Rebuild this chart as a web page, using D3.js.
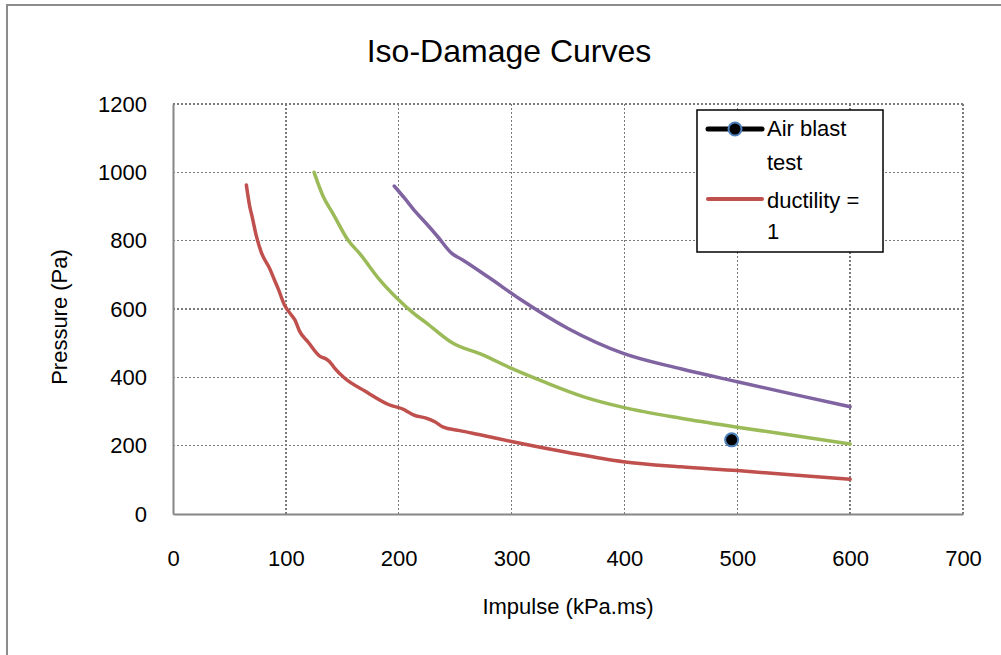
<!DOCTYPE html>
<html lang="en">
<head>
    <meta charset="UTF-8">
    <title>Iso-Damage Curves</title>
    <script src="https://d3js.org/d3.v7.min.js"></script>
    <style>
        body { margin: 0; background: #fff; }
        svg { display: block; font-family: "Liberation Sans", Arial, sans-serif; }
        .grid line { stroke: #7a7a7a; stroke-width: 1.5; stroke-dasharray: 2 2; shape-rendering: crispEdges; }
        .axis .domain { stroke: #868686; stroke-width: 2; }
        .axis text { font-size: 22px; fill: #000; }
    </style>
</head>
<body>
    <svg id="chart" width="1001" height="655"></svg>

    <script>
        // values
        const xTicks = [0, 100, 200, 300, 400, 500, 600, 700];
        const yTicks = [0, 200, 400, 600, 800, 1000, 1200];

        // ductility = 1 (red)
        const redImpulse  = [65, 68, 70, 74, 78, 86, 90, 93, 99, 105, 108, 112, 120, 130, 136, 139, 143, 152, 170, 192, 205, 208, 213, 225, 232, 239, 254, 275, 300, 350, 399, 450, 500, 550, 600];
        const redPressure = [963, 900, 872, 812, 768, 716, 684, 661, 610, 582, 568, 536, 502, 462, 453, 445, 428, 398, 360, 319, 305, 299, 290, 280, 270, 255, 244, 230, 212, 180, 153, 138, 127, 114, 102];

        // green curve
        const greenImpulse  = [125, 133, 142, 155, 166, 183, 198, 213, 225, 247, 275, 300, 330, 364, 399, 450, 500, 550, 600];
        const greenPressure = [1000, 930, 878, 802, 760, 686, 633, 588, 558, 502, 465, 426, 385, 343, 312, 280, 254, 230, 205];

        // purple curve
        const purpleImpulse  = [196, 205, 215, 225, 235, 247, 256, 280, 307, 350, 399, 450, 500, 550, 600];
        const purplePressure = [960, 925, 884, 848, 810, 763, 745, 692, 630, 543, 470, 425, 387, 350, 314];

        // air blast test point
        const testImpulse = [495];
        const testPressure = [217];

        const legendLabels = [["Air blast", "test"], ["ductility =", "1"]];

        const svg = d3.select("#chart");

        // outer chart border
        svg.append("rect")
            .attr("x", 7).attr("y", 5)
            .attr("width", 1010).attr("height", 670)
            .attr("fill", "none")
            .attr("stroke", "#8c8c8c")
            .attr("stroke-width", 2);

        const x = d3.scaleLinear().domain([0, 700]).range([173, 963]);
        const y = d3.scaleLinear().domain([0, 1200]).range([514, 104]);

        // dotted gridlines
        const grid = svg.append("g").attr("class", "grid");
        grid.selectAll(".vx")
            .data(xTicks.filter(d => d > 0))
            .enter().append("line")
            .attr("x1", d => x(d)).attr("x2", d => x(d))
            .attr("y1", y(0)).attr("y2", y(1200));
        grid.selectAll(".hy")
            .data(yTicks.filter(d => d > 0))
            .enter().append("line")
            .attr("x1", x(0)).attr("x2", x(700))
            .attr("y1", d => y(d)).attr("y2", d => y(d));

        // axes
        svg.append("g")
            .attr("class", "axis")
            .attr("transform", `translate(0,${y(0)})`)
            .call(d3.axisBottom(x).tickValues(xTicks).tickFormat(d => String(d))
                .tickSize(0).tickSizeOuter(0).tickPadding(36));

        svg.append("g")
            .attr("class", "axis")
            .attr("transform", `translate(${x(0)},0)`)
            .call(d3.axisLeft(y).tickValues(yTicks).tickFormat(d => String(d))
                .tickSize(0).tickSizeOuter(0).tickPadding(26));

        svg.selectAll(".axis .tick line").remove();

        // curves
        const series = [
            { xs: purpleImpulse, ys: purplePressure, color: "#8064a2" },
            { xs: greenImpulse, ys: greenPressure, color: "#9bbb59" },
            { xs: redImpulse, ys: redPressure, color: "#c0504d" }
        ];

        const line = d3.line()
            .x(d => x(d[0]))
            .y(d => y(d[1]))
            .curve(d3.curveMonotoneX);

        series.forEach(s => {
            svg.append("path")
                .datum(s.xs.map((v, i) => [v, s.ys[i]]))
                .attr("d", line)
                .attr("fill", "none")
                .attr("stroke", s.color)
                .attr("stroke-width", 3.5)
                .attr("stroke-linecap", "round")
                .attr("stroke-linejoin", "round");
        });

        // test point
        svg.selectAll(".test")
            .data(testImpulse.map((v, i) => [v, testPressure[i]]))
            .enter().append("circle")
            .attr("cx", d => x(d[0]))
            .attr("cy", d => y(d[1]))
            .attr("r", 6.5)
            .attr("fill", "#000")
            .attr("stroke", "#4f81bd")
            .attr("stroke-width", 2);

        // title + axis titles
        svg.append("text")
            .attr("x", 509).attr("y", 62)
            .attr("text-anchor", "middle")
            .style("font-size", "32px")
            .text("Iso-Damage Curves");

        svg.append("text")
            .attr("x", 568).attr("y", 614)
            .attr("text-anchor", "middle")
            .style("font-size", "22px")
            .text("Impulse (kPa.ms)");

        svg.append("text")
            .attr("transform", "translate(67,317) rotate(-90)")
            .attr("text-anchor", "middle")
            .style("font-size", "22px")
            .text("Pressure (Pa)");

        // legend
        const legend = svg.append("g");
        legend.append("rect")
            .attr("x", 697).attr("y", 110)
            .attr("width", 186).attr("height", 142)
            .attr("fill", "#fff")
            .attr("stroke", "#000")
            .attr("stroke-width", 1.5);

        const legendY = [129, 199];
        legend.append("line")
            .attr("x1", 708).attr("x2", 762)
            .attr("y1", legendY[0]).attr("y2", legendY[0])
            .attr("stroke", "#000").attr("stroke-width", 5)
            .attr("stroke-linecap", "round");
        legend.append("circle")
            .attr("cx", 735).attr("cy", legendY[0]).attr("r", 6.5)
            .attr("fill", "#000").attr("stroke", "#4f81bd").attr("stroke-width", 2);
        legend.append("line")
            .attr("x1", 708).attr("x2", 762)
            .attr("y1", legendY[1]).attr("y2", legendY[1])
            .attr("stroke", "#c0504d").attr("stroke-width", 4)
            .attr("stroke-linecap", "round");

        const baselines = [[136, 170], [208, 239]];
        legendLabels.forEach((lines, i) => {
            lines.forEach((t, j) => {
                legend.append("text")
                    .attr("x", 767).attr("y", baselines[i][j])
                    .style("font-size", "22px")
                    .text(t);
            });
        });
    </script>
</body>
</html>
